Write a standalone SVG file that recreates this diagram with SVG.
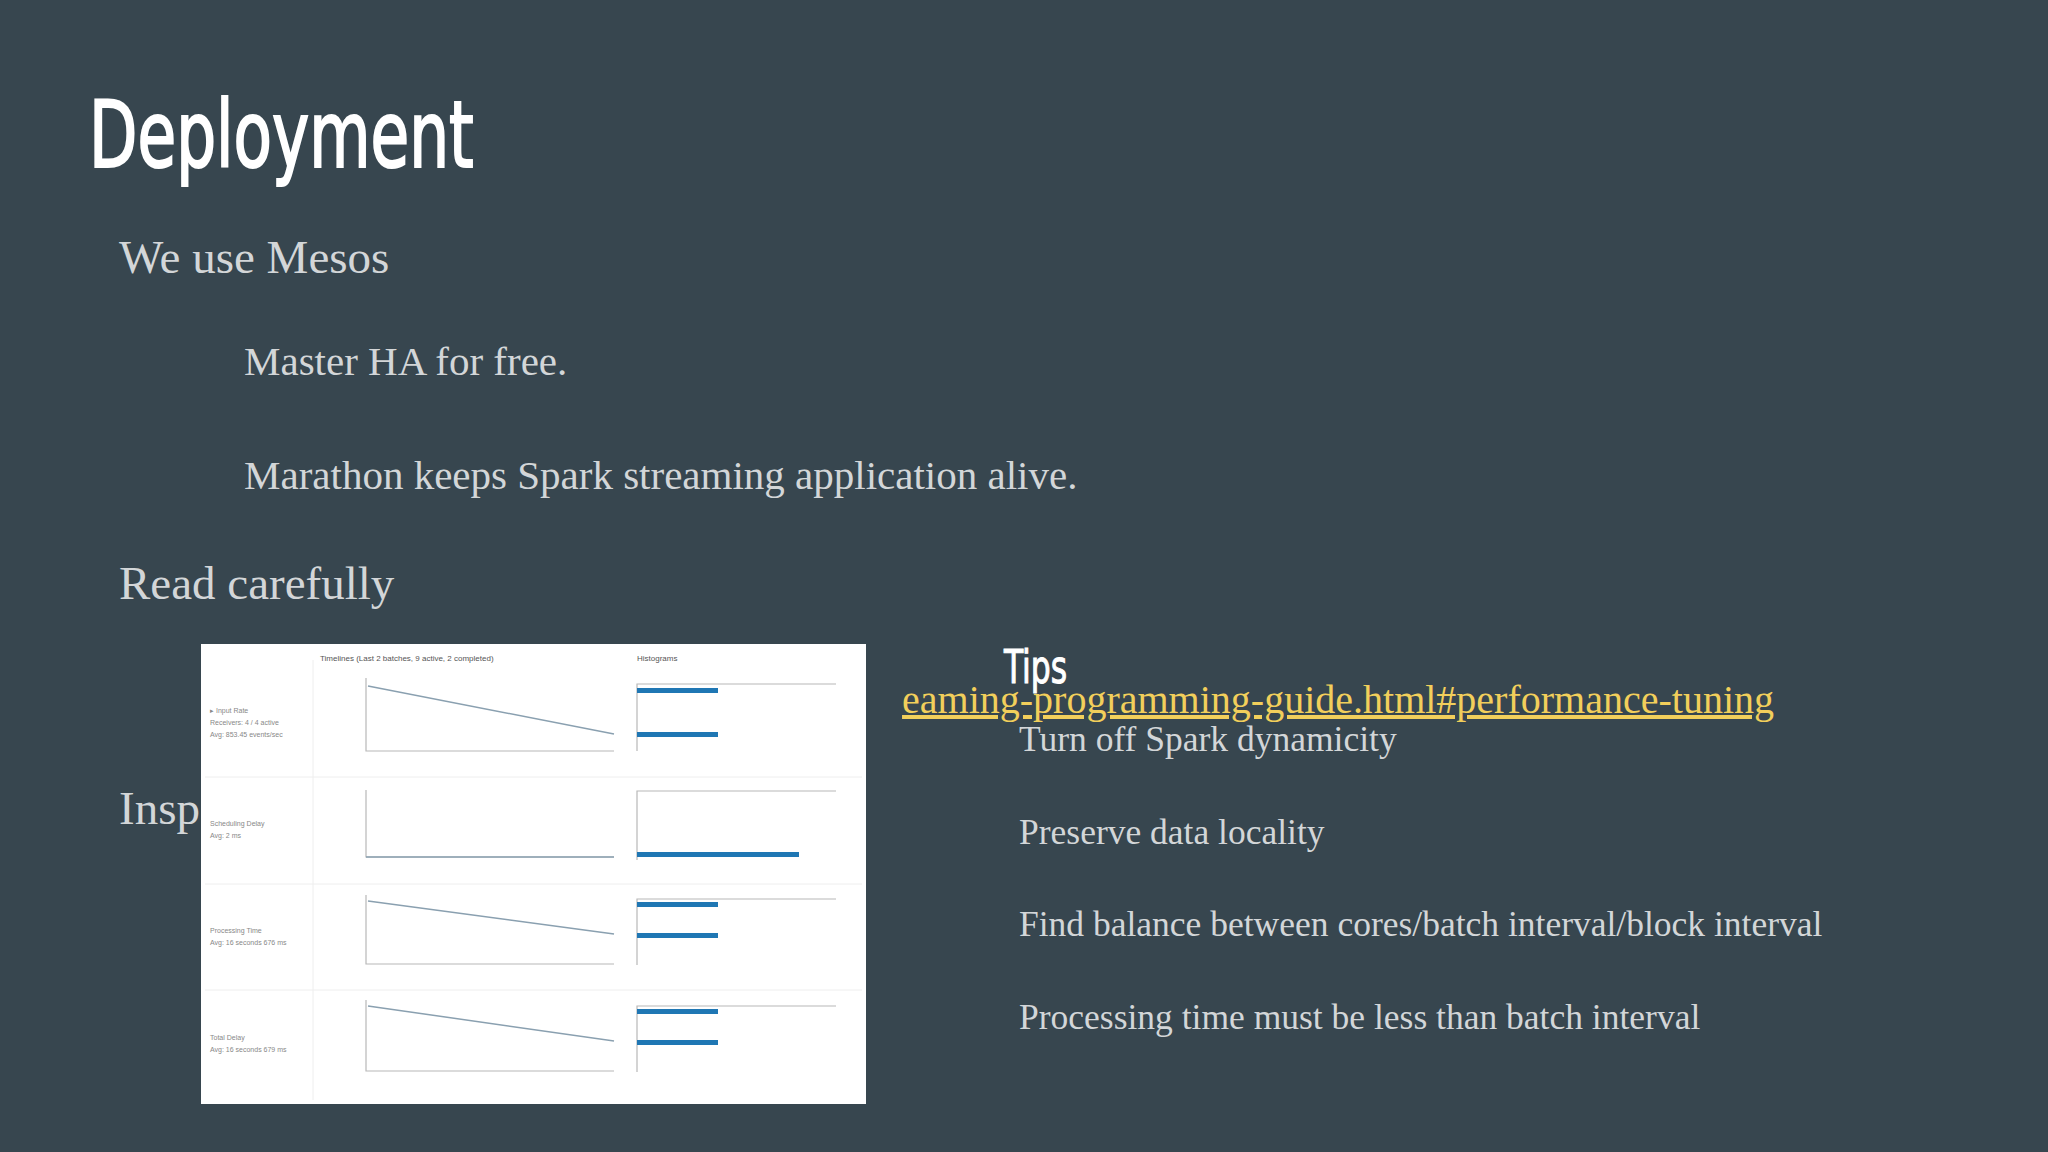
<svg xmlns="http://www.w3.org/2000/svg" width="2048" height="1152" viewBox="0 0 2048 1152">
<style>
.body{font-family:"Liberation Serif",serif;fill:#d3d6d8}
.head{font-family:"Liberation Sans Narrow","DejaVu Sans Condensed","Roboto",sans-serif;fill:#ffffff}
.ax{stroke:#b8b8b8;stroke-width:1.2;fill:none}
.ln{stroke:#8aa0b0;stroke-width:1.5;fill:none}
.bar{fill:#1f77b4}
.sm{font-family:"Liberation Sans",sans-serif;font-size:7px;fill:#888}
.lb{font-family:"Liberation Sans",sans-serif;font-size:8px;fill:#555}
.sep{stroke:#eeeeee;stroke-width:1}
</style>
<rect width="2048" height="1152" fill="#37464f"/>
<g id="title"><text class="head" x="89" y="167" font-size="92" stroke="#ffffff" stroke-width="2" transform="translate(89 0) scale(0.76 1) translate(-89 0)">Deployment</text></g>
<g id="text">
<text class="body" x="119" y="273" font-size="47">We use Mesos</text>
<text class="body" x="244" y="375" font-size="41">Master HA for free.</text>
<text class="body" x="244" y="489" font-size="41">Marathon keeps Spark streaming application alive.</text>
<text class="body" x="119" y="599" font-size="47">Read carefully</text>
<text x="1774" y="713" font-size="40" text-anchor="end" font-family="Liberation Serif,serif" fill="#f2cf5b" text-decoration="underline">eaming-programming-guide.html#performance-tuning</text>
<text class="body" x="119" y="824" font-size="47">Insp</text>
</g>
<g id="screenshot">
<rect x="201" y="644" width="665" height="460" fill="#ffffff"/>
<line class="sep" x1="313" y1="660" x2="313" y2="1100"/>
<line class="sep" x1="205" y1="777" x2="862" y2="777"/>
<line class="sep" x1="205" y1="884" x2="862" y2="884"/>
<line class="sep" x1="205" y1="990" x2="862" y2="990"/>
<text class="lb" x="320" y="661">Timelines (Last 2 batches, 9 active, 2 completed)</text>
<text class="lb" x="637" y="661">Histograms</text>
<text class="sm" x="210" y="713" fill="#1f77b4">▸ Input Rate</text>
<text class="sm" x="210" y="725">Receivers: 4 / 4 active</text>
<text class="sm" x="210" y="737">Avg: 853.45 events/sec</text>
<text class="sm" x="210" y="826">Scheduling Delay</text>
<text class="sm" x="210" y="838">Avg: 2 ms</text>
<text class="sm" x="210" y="933">Processing Time</text>
<text class="sm" x="210" y="945">Avg: 16 seconds 676 ms</text>
<text class="sm" x="210" y="1040">Total Delay</text>
<text class="sm" x="210" y="1052">Avg: 16 seconds 679 ms</text>
<g>
<polyline class="ax" points="366,678 366,751 614,751"/>
<line class="ln" x1="368" y1="686" x2="614" y2="734"/>
<polyline class="ax" points="637,751 637,684 836,684"/>
<rect class="bar" x="637" y="688" width="81" height="5"/>
<rect class="bar" x="637" y="732" width="81" height="5"/>
<polyline class="ax" points="366,790 366,857 614,857"/>
<line class="ln" x1="366" y1="857" x2="614" y2="857"/>
<polyline class="ax" points="637,860 637,791 836,791"/>
<rect class="bar" x="637" y="852" width="162" height="5"/>
<polyline class="ax" points="366,895 366,964 614,964"/>
<line class="ln" x1="368" y1="901" x2="614" y2="934"/>
<polyline class="ax" points="637,965 637,899 836,899"/>
<rect class="bar" x="637" y="902" width="81" height="5"/>
<rect class="bar" x="637" y="933" width="81" height="5"/>
<polyline class="ax" points="366,1000 366,1071 614,1071"/>
<line class="ln" x1="368" y1="1006" x2="614" y2="1041"/>
<polyline class="ax" points="637,1072 637,1006 836,1006"/>
<rect class="bar" x="637" y="1009" width="81" height="5"/>
<rect class="bar" x="637" y="1040" width="81" height="5"/>
</g>
</g>
<g id="tips">
<text class="head" x="1004" y="683" font-size="46" stroke="#ffffff" stroke-width="1" transform="translate(1004 0) scale(0.76 1) translate(-1004 0)">Tips</text>
<text class="body" x="1019" y="751" font-size="35.5">Turn off Spark dynamicity</text>
<text class="body" x="1019" y="844" font-size="35.5">Preserve data locality</text>
<text class="body" x="1019" y="936" font-size="35.5">Find balance between cores/batch interval/block interval</text>
<text class="body" x="1019" y="1029" font-size="35.5">Processing time must be less than batch interval</text>
</g>
</svg>
